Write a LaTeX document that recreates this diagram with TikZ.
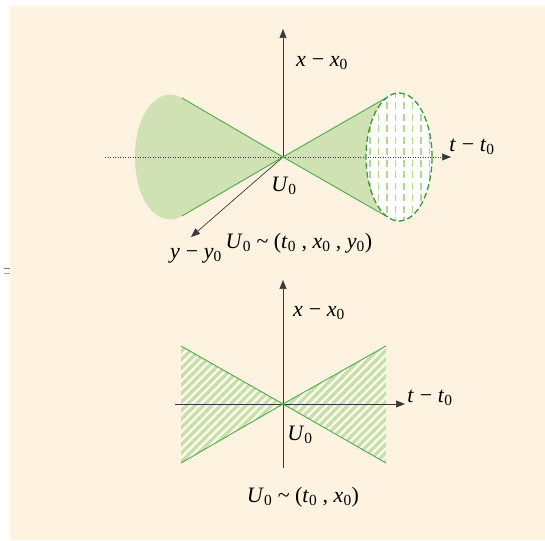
\documentclass[tikz,border=0pt]{standalone}
\usepackage{fontspec}
\setmainfont{Liberation Serif}
\usetikzlibrary{arrows.meta}
\definecolor{cream}{HTML}{FDF3E0}
\definecolor{conefill}{HTML}{D0E2B4}
\definecolor{coneline}{HTML}{4CAA4C}
\definecolor{rimline}{HTML}{3A9A3A}
\definecolor{hatchg}{HTML}{B2D88A}
\definecolor{stripeg}{HTML}{C8E0A8}
\definecolor{axisc}{HTML}{3A3A3A}
\newcommand{\vv}[2]{\textit{#1}\textsubscript{#2}}
\tikzset{
  axisline/.style={draw=axisc, line width=0.7pt},
  axisarrow/.style={axisline, -{Triangle[length=9pt,width=7pt]}},
  dotaxis/.style={draw=axisc, line width=0.6pt, dash pattern=on 1pt off 1.5pt, -{Triangle[length=9pt,width=7pt]}},
  greenline/.style={draw=coneline, line width=0.9pt},
  rim/.style={draw=rimline, line width=1.3pt, dash pattern=on 6pt off 3pt},
  vdash/.style={draw=hatchg, line width=1.6pt, dash pattern=on 7pt off 4.5pt},
  stripe/.style={draw=stripeg, line width=3.2pt},
  lbl/.style={font=\fontsize{22}{26}\selectfont, inner sep=0pt}
}
\begin{document}
\begin{tikzpicture}[x=1pt,y=1pt]
\useasboundingbox (0,0) rectangle (545,540);
\fill[cream] (10,0) rectangle (545,534);
\draw[gray, line width=1pt] (4,271) -- (9.5,271);
\draw[gray!70, line width=1pt] (4,266.5) -- (9.5,266.5);

% ---------- upper diagram ----------
\coordinate (O1) at (283,383);
\coordinate (LT) at (182,442);
\coordinate (LB) at (182,324);
\coordinate (RT) at (387,442.7);
\coordinate (RB) at (387,323.3);
\coordinate (EC) at (399,383);

% left cone fill
\fill[conefill] (O1) -- (LT) .. controls (160,455) and (135,430) .. (135,383)
   .. controls (135,336) and (160,311) .. (LB) -- cycle;
% right cone fill
\fill[conefill] (O1) -- (RT) arc[start angle=111, end angle=249, x radius=33pt, y radius=64pt] -- cycle;
% ellipse interior
\fill[white] (EC) ellipse[x radius=33pt, y radius=64pt];
\begin{scope}
  \clip (EC) ellipse[x radius=33pt, y radius=64pt];
  \foreach \xx in {370,378.5,387,395.5,404,412.5,421,429.5}
    \draw[vdash] (\xx,449) -- (\xx,316);
\end{scope}

% axes
\coordinate (HL) at (105,383);
\coordinate (HR) at (451,383);
\coordinate (VT) at (283,511);
\coordinate (YA) at (191,303);
\draw[dotaxis] (HL) -- (HR);
\draw[axisarrow] (O1) -- (VT);
\draw[axisarrow] (O1) -- (YA);

% cone edges
\draw[greenline] (LT) -- (O1) -- (LB);
\draw[greenline] (RT) -- (O1) -- (RB);
\draw[rim] (EC) ellipse[x radius=33pt, y radius=64pt];

% labels
\node[lbl] (lx1) at (322,477) {\vv{x}{} − \vv{x}{0}};
\node[lbl] (lt1) at (472,393) {\vv{t}{} − \vv{t}{0}};
\node[lbl] (lu1) at (284,354) {\vv{U}{0}};
\node[lbl] (ly1) at (196,284) {\vv{y}{} − \vv{y}{0}};
\node[lbl] (lc1) at (299,297) {\vv{U}{0} \textasciitilde\ (\vv{t}{0} , \vv{x}{0} , \vv{y}{0})};

% ---------- lower diagram ----------
\coordinate (O2) at (283,136);
\coordinate (A) at (181,194);
\coordinate (B) at (181,77);
\coordinate (C) at (386,194);
\coordinate (D) at (386,77);
\fill[cream!40!white] (O2) -- (A) -- (B) -- cycle;
\fill[cream!40!white] (O2) -- (C) -- (D) -- cycle;
\begin{scope}
  \clip (O2) -- (A) -- (B) -- cycle (O2) -- (C) -- (D) -- cycle;
  \foreach \k in {-30,...,30}
    \draw[stripe] ({180+\k*8.5},60) -- ({180+\k*8.5+150},210);
\end{scope}
\coordinate (H2L) at (175,136);
\coordinate (H2R) at (405,136);
\coordinate (V2B) at (283,72);
\coordinate (V2T) at (283,260);
\draw[axisarrow] (H2L) -- (H2R);
\draw[axisarrow] (V2B) -- (V2T);
\draw[greenline] (A) -- (O2) -- (D);
\draw[greenline] (B) -- (O2) -- (C);

\node[lbl] (lx2) at (319,227) {\vv{x}{} − \vv{x}{0}};
\node[lbl] (lt2) at (430,142) {\vv{t}{} − \vv{t}{0}};
\node[lbl] (lu2) at (300,105) {\vv{U}{0}};
\node[lbl] (lc2) at (303,43) {\vv{U}{0} \textasciitilde\ (\vv{t}{0} , \vv{x}{0})};
\end{tikzpicture}
\end{document}
